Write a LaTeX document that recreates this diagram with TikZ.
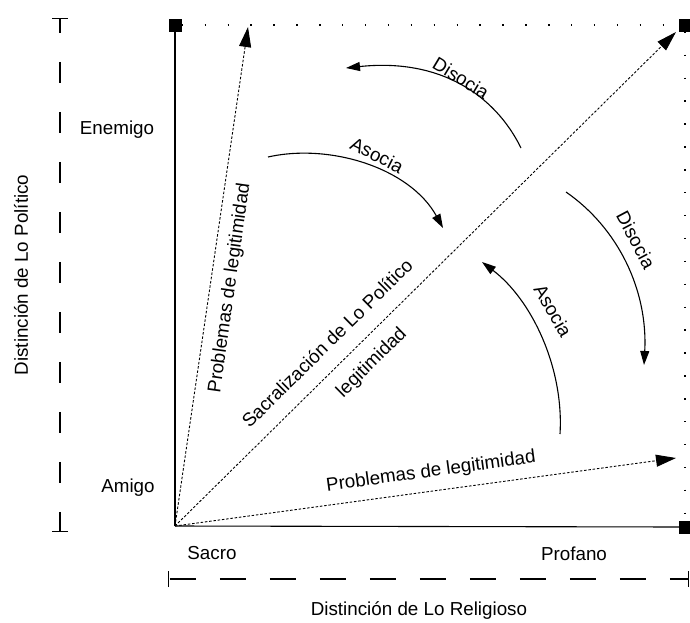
\documentclass[tikz,border=0pt]{standalone}
\usepackage{fontspec}
\setmainfont{Liberation Sans}
\usetikzlibrary{arrows.meta}
\tikzset{
  lbl/.style={font=\fontsize{18.8}{22}\selectfont, inner sep=0pt},
  sq/.style={fill=black, draw=none, minimum size=13pt, inner sep=0pt},
  axisline/.style={line width=1.1pt},
  border/.style={line width=1.4pt, dash pattern=on 1.4pt off 21.5pt},
  probe/.style={line width=0.9pt, dash pattern=on 2.5pt off 1.8pt, -{Triangle[length=20pt,width=12pt]}},
  curvarrow/.style={line width=1.1pt, -{Triangle[length=14pt,width=9pt]}},
  dimline/.style={line width=1.2pt},
}
\begin{document}
\begin{tikzpicture}[x=1pt,y=-1pt]
\useasboundingbox (0,0) rectangle (690,622);
% corners
\coordinate (O) at (175,526);
\node[sq] (TL) at (175,25) {};
\node[sq] (TR) at (685,25) {};
\node[sq] (BR) at (685,527) {};
% axes
\draw[axisline] (O) -- (TL.center);
\draw[axisline] (O) -- (BR.center);
\draw[border] (TL.east) -- (TR.west);
\draw[border] (TR.south) -- (BR.north);
% tips
\coordinate (T1) at (248,27);
\coordinate (T2) at (676,32);
\coordinate (T3) at (676,458);
\draw[probe] (O) -- (T1);
\draw[probe] (O) -- (T2);
\draw[probe] (O) -- (T3);
% labels on probes
\node[lbl, rotate=82] (p1) at (230,288) {Problemas de legitimidad};
\node[lbl, rotate=44.6] (p2) at (327,343) {Sacralización de Lo Político};
\node[lbl, rotate=44.6] (p3) at (372,363) {legitimidad};
\node[lbl, rotate=7.8] (p4) at (431,472) {Problemas de legitimidad};
% curved arrows
\coordinate (d1s) at (521,148);
\coordinate (d1e) at (346,68);
\draw[curvarrow] (d1s) .. controls (495,95) and (440,58) .. (d1e);
\node[lbl, rotate=-31] (d1) at (461,78) {Disocia};
\coordinate (a1s) at (268,157);
\coordinate (a1e) at (443,228);
\draw[curvarrow] (a1s) .. controls (330,143) and (410,168) .. (a1e);
\node[lbl, rotate=-27] (a1) at (377,155) {Asocia};
\coordinate (d2s) at (566,192);
\coordinate (d2e) at (644,365);
\draw[curvarrow] (d2s) .. controls (618,228) and (648,290) .. (d2e);
\node[lbl, rotate=-62] (d2) at (636,240) {Disocia};
\coordinate (a2s) at (560,434);
\coordinate (a2e) at (482,262);
\draw[curvarrow] (a2s) .. controls (564,368) and (532,300) .. (a2e);
\node[lbl, rotate=-60] (a2) at (553,311) {Asocia};
% dimension scales
\coordinate (LA) at (60,18);
\coordinate (LB) at (60,532);
\draw[dimline, dash pattern=on 21pt off 29pt, dash phase=7pt, {Bar[width=16pt]}-{Bar[width=16pt]}] (LA) -- (LB);
\coordinate (BA) at (168,579);
\coordinate (BB) at (689,579);
\draw[dimline, dash pattern=on 26pt off 24pt, dash phase=49pt, {Bar[width=16pt]}-{Bar[width=16pt]}] (BA) -- (BB);
% axis labels
\node[lbl, rotate=90] (lp) at (21,275) {Distinción de Lo Político};
\node[lbl] (lr) at (419,611) {Distinción de Lo Religioso};
\node[lbl] (en) at (117,130) {Enemigo};
\node[lbl] (am) at (128,488) {Amigo};
\node[lbl] (sa) at (212,553) {Sacro};
\node[lbl] (pr) at (574,554) {Profano};
\end{tikzpicture}
\end{document}
